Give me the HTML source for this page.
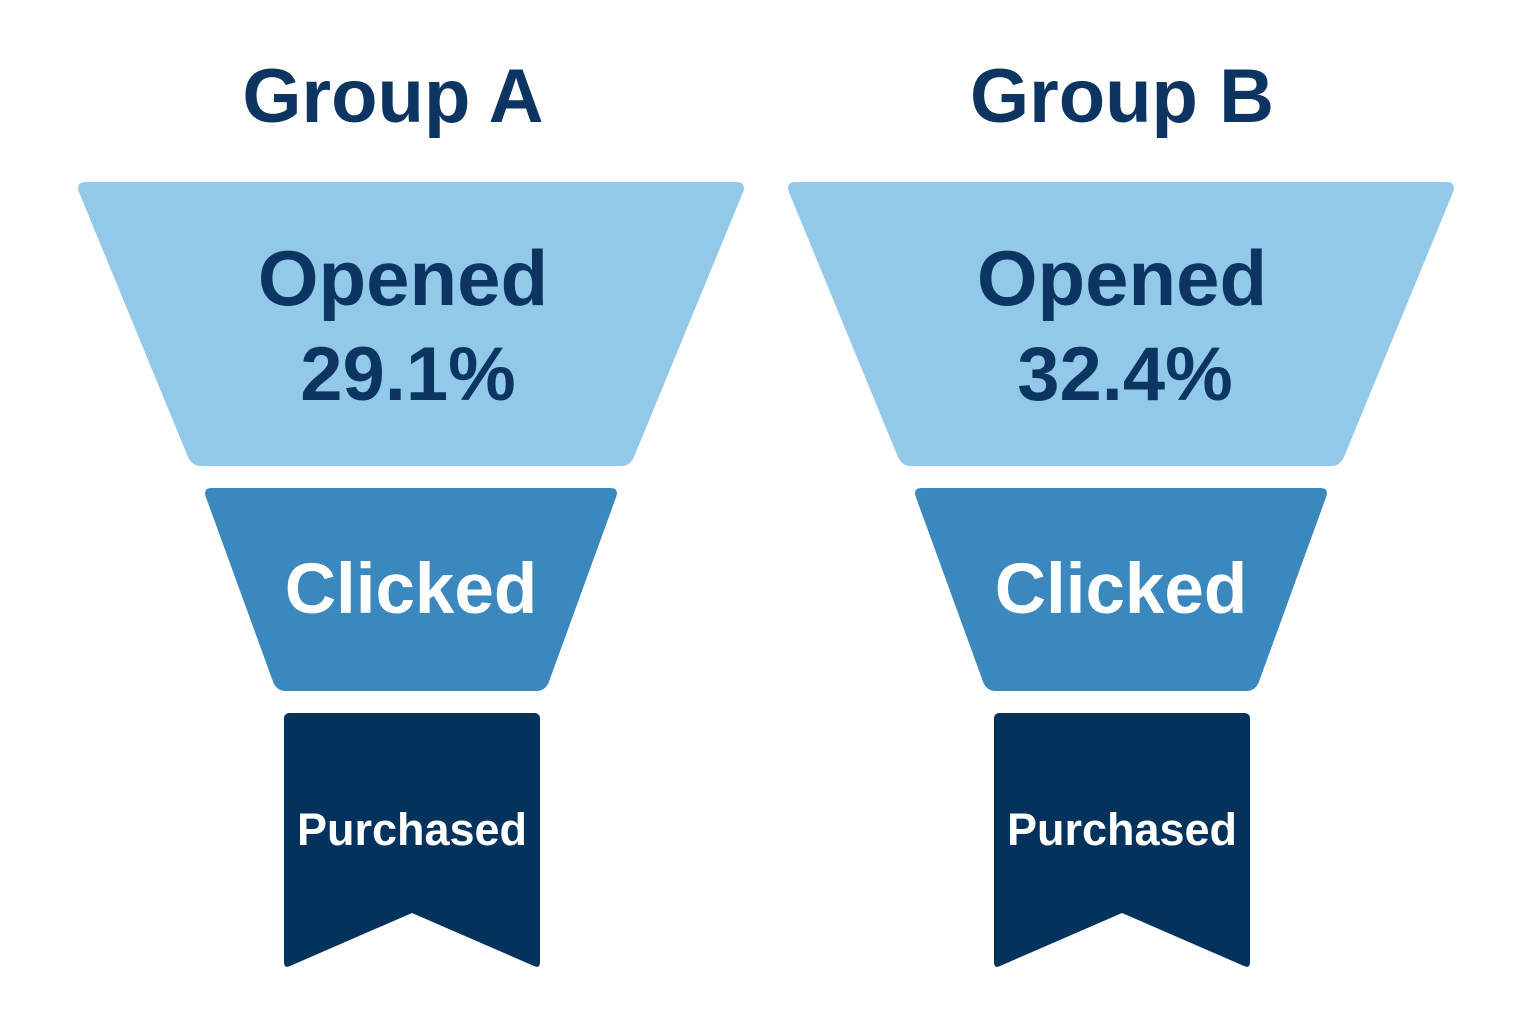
<!DOCTYPE html>
<html><head><meta charset="utf-8"><style>
html,body{margin:0;padding:0;background:#fff;}
svg{display:block;}
text{font-family:"Liberation Sans",sans-serif;font-weight:bold;text-anchor:middle;}
</style></head><body>
<svg id="chart" width="1536" height="1024" viewBox="0 0 1536 1024" xmlns="http://www.w3.org/2000/svg"></svg>
<script>
const groups = ["Group A", "Group B"];
const stages = ["Opened", "Clicked", "Purchased"];
const openedRates = [29.1, 32.4];

const NS = "http://www.w3.org/2000/svg";
const svg = document.getElementById("chart");
const centers = [411, 1121];
const titleShift = [-18, 1];
const openShift = [-8, 1];
const rateShift = [-3, 4];
function mk(tag, attrs, txt){
  const e = document.createElementNS(NS, tag);
  for (const k in attrs) e.setAttribute(k, attrs[k]);
  if (txt !== undefined) e.textContent = txt;
  svg.appendChild(e);
  return e;
}
function rtrap(cx, y0, y1, wt, wb, r){
  const tl=cx-wt/2, tr=cx+wt/2, bl=cx-wb/2, br=cx+wb/2;
  return `M${tl+r},${y0} L${tr-r},${y0} Q${tr},${y0} ${tr-2},${y0+r} L${br+2},${y1-r} Q${br-2},${y1} ${br-r-2},${y1} L${bl+r+2},${y1} Q${bl+2},${y1} ${bl-2},${y1-r} L${tl+2},${y0+r} Q${tl},${y0} ${tl+r},${y0} Z`;
}
groups.forEach((g, i) => {
  const cx = centers[i];
  let e = mk("text", {x: cx+titleShift[i], y: 122, "font-size": 76, fill: "#0D3561"}, g);
  
  

  e = mk("path", {d: rtrap(cx, 182, 466, 669, 442, 9), fill: "#93C9E8"});
  
  
  e = mk("text", {x: cx+openShift[i], y: 305, "font-size": 78, fill: "#0D3561"}, stages[0]);
  
  
  e = mk("text", {x: cx+rateShift[i], y: 400, "font-size": 76, fill: "#0D3561"}, openedRates[i].toFixed(1) + "%");
  
  

  e = mk("path", {d: rtrap(cx, 488, 691, 415, 271, 8), fill: "#3A88BE"});
  
  
  e = mk("text", {x: cx, y: 613, "font-size": 71, fill: "#FFFFFF"}, stages[1]);
  
  

  const l = cx-127, r = cx+129;
  e = mk("path", {d: `M${l+6},713 L${r-6},713 Q${r},713 ${r},719 L${r},962 Q${r},969 ${r-6},966 L${cx+1},913 L${l+6},966 Q${l},969 ${l},962 L${l},719 Q${l},713 ${l+6},713 Z`, fill: "#03335C"});
  
  
  e = mk("text", {x: cx+1, y: 845, "font-size": 45, fill: "#FFFFFF"}, stages[2]);
  
  
});
</script>
</body></html>
